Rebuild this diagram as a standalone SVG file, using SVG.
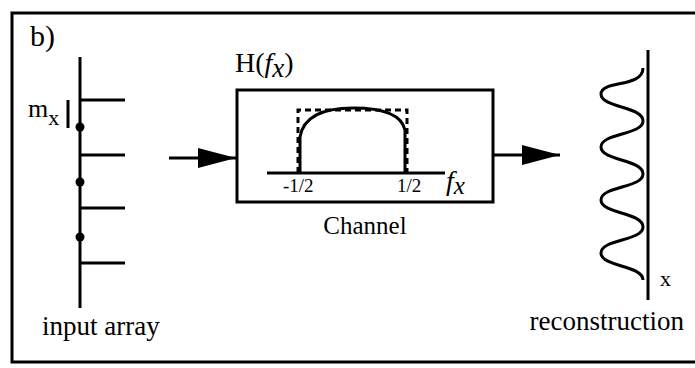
<svg xmlns="http://www.w3.org/2000/svg" width="695" height="368" viewBox="0 0 695 368">
<defs>
<style>
.ln{stroke:#000;stroke-width:3;fill:none;stroke-linecap:butt}
.t{font-family:"Liberation Serif","Times New Roman",serif;fill:#000}
.i{font-style:italic}
</style>
<marker id="ah" markerWidth="40" markerHeight="20" refX="38" refY="10" orient="auto" markerUnits="userSpaceOnUse">
<path d="M0,0 L38,10 L0,20 Z" fill="#000"/>
</marker>
</defs>
<rect width="695" height="368" fill="#fff"/>
<g id="frame">
<path class="ln" stroke-width="3.5" d="M700,13 L12,13 L12,362 L700,362"/>
<text class="t" x="30" y="46" font-size="30">b)</text>
</g>
<g id="input-array">
<line class="ln" x1="80" y1="57" x2="80" y2="308"/>
<line class="ln" x1="80" y1="100" x2="125" y2="100"/>
<line class="ln" x1="80" y1="155" x2="125" y2="155"/>
<line class="ln" x1="80" y1="208" x2="125" y2="208"/>
<line class="ln" x1="80" y1="263" x2="125" y2="263"/>
<circle cx="80" cy="127" r="4.5"/>
<circle cx="80" cy="182" r="4.5"/>
<circle cx="80" cy="237" r="4.5"/>
<line class="ln" x1="68" y1="100" x2="68" y2="128"/>
<text class="t" x="28" y="117" font-size="26">m<tspan font-size="22" dy="8">x</tspan></text>
<text class="t" x="42" y="335" font-size="27">input array</text>
</g>
<g id="channel">
<rect class="ln" x="237" y="90" width="256" height="112"/>
<text class="t" x="235" y="72" font-size="28">H(<tspan class="i">f</tspan><tspan class="i" font-size="27" dy="5">x</tspan><tspan dy="-5">)</tspan></text>
<line class="ln" x1="267" y1="173" x2="445" y2="173"/>
<path class="ln" stroke-dasharray="6,4" d="M298,173 L298,110 L407,110 L407,173"/>
<path class="ln" d="M300,173 L300,137 C304,113 330,108 353,108 C376,108 401,112 405,130 L405,173"/>
<text class="t" x="283" y="192" font-size="19">-1/2</text>
<text class="t" x="397" y="192" font-size="19">1/2</text>
<text class="t i" x="446" y="190" font-size="28">f<tspan font-size="25" dy="4">x</tspan></text>
<text class="t" x="365" y="234" font-size="25" text-anchor="middle">Channel</text>
</g>
<g id="reconstruction">
<line class="ln" x1="648" y1="50" x2="648" y2="300"/>
<path class="ln" stroke-width="4" d="M643,68 C643,88 601,80 601,94 C601,108 643,106 643,121 C643,135 601,133 601,147 C601,161 643,159 643,174 C643,188 601,186 601,200 C601,214 643,212 643,227 C643,241 601,239 601,253 C601,267 643,265 643,280"/>
<text class="t" x="660" y="286" font-size="22">x</text>
<text class="t" x="684" y="330" font-size="27" text-anchor="end">reconstruction</text>
</g>
<g id="connectors">
<line class="ln" x1="169" y1="158" x2="236" y2="158" marker-end="url(#ah)"/>
<line class="ln" x1="493" y1="155" x2="560" y2="155" marker-end="url(#ah)"/>
</g>
</svg>
